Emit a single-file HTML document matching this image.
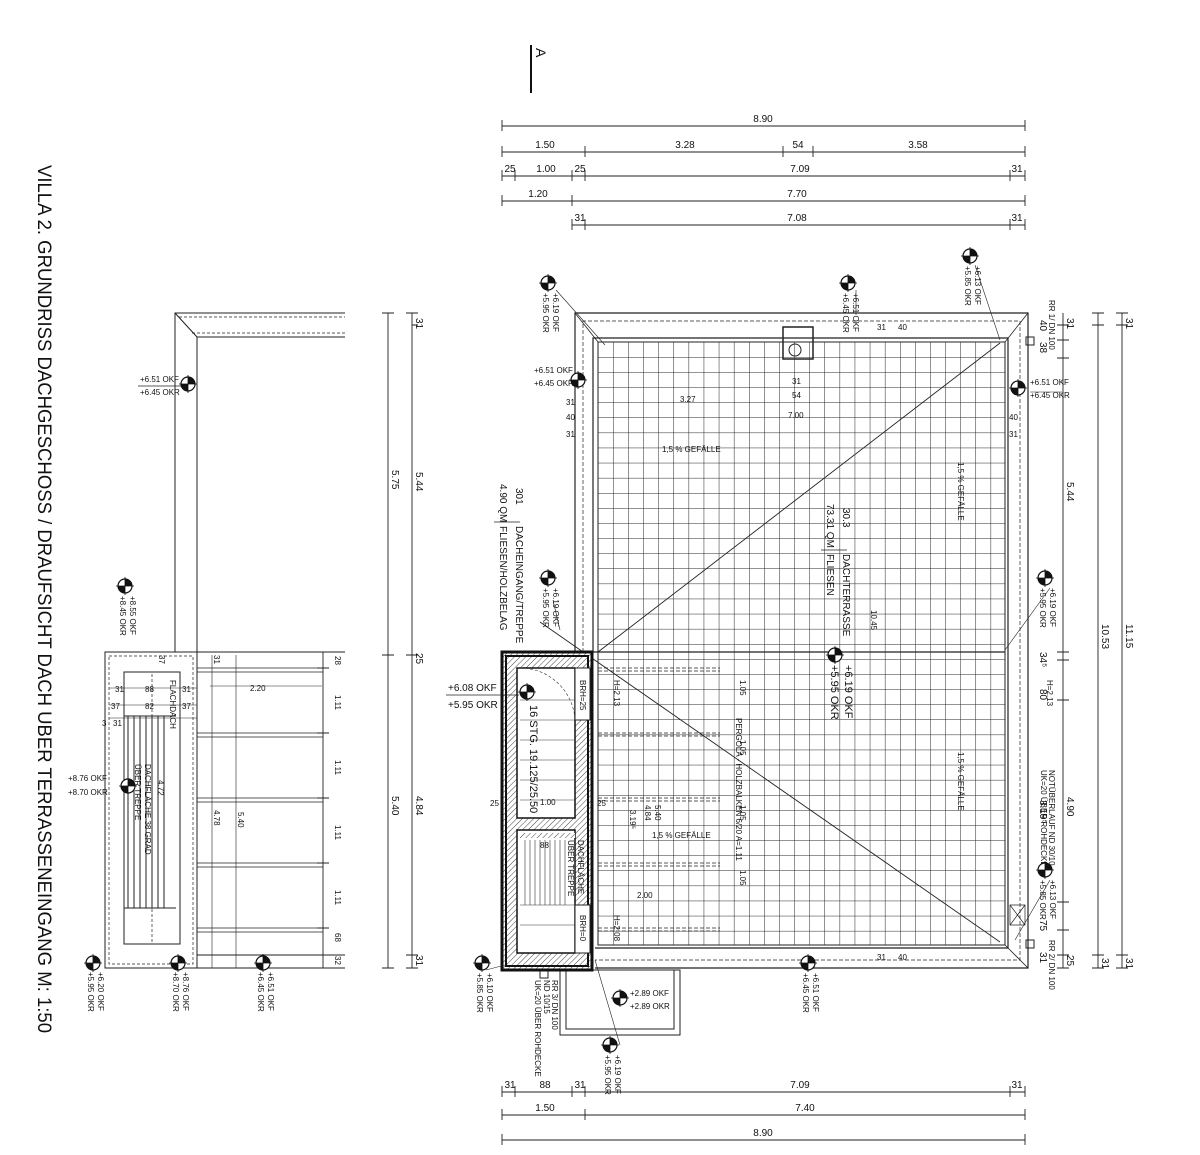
<!DOCTYPE html>
<html><head><meta charset="utf-8"><style>
html,body{margin:0;padding:0;background:#fff}
svg{display:block}
text{font-family:"Liberation Sans",sans-serif;fill:#111}
</style></head><body>
<svg width="1200" height="1155" viewBox="0 0 1200 1155" xmlns="http://www.w3.org/2000/svg">
<defs>
<pattern id="grid" x="598" y="342" width="15.1" height="15.1" patternUnits="userSpaceOnUse">
<path d="M0 0V15.1M0 0H15.1" stroke="#222" stroke-width="1" fill="none"/>
</pattern>
<pattern id="hatch" width="4" height="4" patternUnits="userSpaceOnUse" patternTransform="rotate(45)">
<rect width="4" height="4" fill="#fff"/>
<path d="M0 0V4" stroke="#444" stroke-width="1"/>
</pattern>
<g id="mk"><circle r="7" fill="#fff" stroke="#111" stroke-width="1.2"/><path d="M0 0V-7A7 7 0 0 1 7 0Z M0 0V7A7 7 0 0 1 -7 0Z" fill="#111"/><path d="M-9 0H9M0 -9V9" stroke="#111" stroke-width="0.8"/></g>
</defs>

<!-- Title -->
<text transform="translate(38,165) rotate(90)" font-size="19" textLength="868" lengthAdjust="spacingAndGlyphs">VILLA 2. GRUNDRISS DACHGESCHOSS / DRAUFSICHT DACH UBER TERRASSENEINGANG M:  1:50</text>

<!-- Section marker A -->
<line x1="531" y1="45" x2="531" y2="93" stroke="#111" stroke-width="2"/>
<text transform="translate(536,48) rotate(90)" font-size="14">A</text>

<g stroke="#222" stroke-width="0.9" fill="none">
<path d="M502 126H1025M502 152H1025M502 176H1025M502 201H1025M572 225H1025"/>
<path d="M502 120V131M1025 120V131M502 146V157M585 146V157M783 146V157M813 146V157M1025 146V157M502 170V181M515 170V181M572 170V181M585 170V181M1010 170V181M1025 170V181M502 195V206M572 195V206M1025 195V206M572 219V230M585 219V230M1010 219V230M1025 219V230"/>
<path d="M502 1092H1025M502 1115H1025M502 1140H1025"/>
<path d="M502 1086V1097M515 1086V1097M572 1086V1097M585 1086V1097M1010 1086V1097M1025 1086V1097M502 1109V1120M585 1109V1120M1025 1109V1120M502 1134V1145M1025 1134V1145"/>
<path d="M1063 313V968M1098 313V968M1122 313V968"/>
<path d="M1057 325H1069M1057 340H1069M1057 358H1069M1057 652H1069M1057 660H1069M1057 700H1069M1057 902H1069M1057 930H1069M1057 955H1069M1057 968H1069M1092 313H1104M1092 325H1104M1092 955H1104M1092 968H1104M1116 313H1128M1116 325H1128M1116 955H1128M1116 968H1128"/>
<path d="M388 313V968M412 313V968M412 325H418M382 313H394M406 313H418M382 655H394M406 655H418M382 968H394M406 968H418M406 955H418"/>
<path d="M323 652V968M317 668H329M317 733H329M317 798H329M317 863H329M317 928H329M317 955H329M317 968H329"/>
</g>

<g font-size="10" text-anchor="middle">
<text x="763" y="122">8.90</text>
<text x="545" y="148">1.50</text><text x="685" y="148">3.28</text><text x="798" y="148">54</text><text x="918" y="148">3.58</text>
<text x="510" y="172">25</text><text x="546" y="172">1.00</text><text x="580" y="172">25</text><text x="800" y="172">7.09</text><text x="1017" y="172">31</text>
<text x="538" y="197">1.20</text><text x="797" y="197">7.70</text>
<text x="580" y="221">31</text><text x="797" y="221">7.08</text><text x="1017" y="221">31</text>
<text x="510" y="1088">31</text><text x="545" y="1088">88</text><text x="580" y="1088">31</text><text x="800" y="1088">7.09</text><text x="1017" y="1088">31</text>
<text x="545" y="1111">1.50</text><text x="805" y="1111">7.40</text>
<text x="763" y="1136">8.90</text>
</g>
<g font-size="10">
<text transform="translate(1067,318) rotate(90)">31</text>
<text transform="translate(1040,320) rotate(90)">40</text><text transform="translate(1040,342) rotate(90)">38</text>
<text transform="translate(1067,482) rotate(90)">5.44</text>
<text transform="translate(1040,652) rotate(90)">34⁵</text>
<text transform="translate(1040,689) rotate(90)">80</text>
<text transform="translate(1067,797) rotate(90)">4.90</text>
<text transform="translate(1040,800) rotate(90)">3.19⁵</text>
<text transform="translate(1040,920) rotate(90)">75</text>
<text transform="translate(1040,952) rotate(90)">31</text>
<text transform="translate(1067,955) rotate(90)">25</text>
<text transform="translate(1102,624) rotate(90)">10.53</text>
<text transform="translate(1102,958) rotate(90)">31</text>
<text transform="translate(1126,318) rotate(90)">31</text>
<text transform="translate(1126,624) rotate(90)">11.15</text>
<text transform="translate(1126,958) rotate(90)">31</text>
<text transform="translate(392,470) rotate(90)">5.75</text>
<text transform="translate(416,472) rotate(90)">5.44</text>
<text transform="translate(392,796) rotate(90)">5.40</text>
<text transform="translate(416,796) rotate(90)">4.84</text>
<text transform="translate(416,318) rotate(90)">31</text>
<text transform="translate(416,653) rotate(90)">25</text>
<text transform="translate(416,955) rotate(90)">31</text>
<text transform="translate(335,656) rotate(90)" font-size="8">28</text>
<text transform="translate(335,695) rotate(90)" font-size="8">1.11</text>
<text transform="translate(335,760) rotate(90)" font-size="8">1.11</text>
<text transform="translate(335,825) rotate(90)" font-size="8">1.11</text>
<text transform="translate(335,890) rotate(90)" font-size="8">1.11</text>
<text transform="translate(335,933) rotate(90)" font-size="8">68</text>
<text transform="translate(335,956) rotate(90)" font-size="8">32</text>
</g>

<!-- LEFT PLAN -->
<g stroke="#222" stroke-width="1" fill="none">
<path d="M175 652V313H345M197 652V337H345M175 313L197 337"/>
<path d="M179 317H345M192 333H345" stroke-dasharray="3 2" stroke-width="0.7"/>
<rect x="105" y="652" width="92" height="316"/>
<rect x="109" y="656" width="84" height="308" stroke-dasharray="3 2" stroke-width="0.7"/>
<rect x="152" y="672" width="28" height="272" stroke-dasharray="3 2" stroke-width="0.7"/>
<rect x="124" y="672" width="56" height="272"/>
<path d="M128 716V908M134 716V908M140 716V908M146 716V908M152 716V908M158 716V908M164 716V908M124 716H176M124 908H176"/>
<path d="M197 968H345M197 955H345M197 652H345"/>
<path d="M197 668H323M197 672H323M197 733H323M197 737H323M197 798H323M197 802H323M197 863H323M197 867H323M197 928H323M197 932H323" stroke-width="0.8"/>
<path d="M212 655V968M236 655V968" stroke-width="0.6"/>
<path d="M109 688H197M109 705H197M109 718H197" stroke-width="0.6"/>
<path d="M210 686H322" stroke-width="0.6"/>
</g>
<g font-size="8">
<text x="115" y="692">31</text><text x="145" y="692">88</text><text x="182" y="692">31</text>
<text x="111" y="709">37</text><text x="145" y="709">82</text><text x="182" y="709">37</text>
<text x="102" y="726">3</text><text x="113" y="726">31</text>
<text x="250" y="691">2.20</text>
<text transform="translate(159,655) rotate(90)">37</text>
<text transform="translate(170,680) rotate(90)">FLACHDACH</text>
<text transform="translate(145,764) rotate(90)">DACHFLÄCHE 38 GRAD</text>
<text transform="translate(135,764) rotate(90)">ÜBER TREPPE</text>
<text transform="translate(158,780) rotate(90)">4.72</text>
<text transform="translate(214,810) rotate(90)">4.78</text>
<text transform="translate(238,812) rotate(90)">5.40</text>
<text transform="translate(214,655) rotate(90)">31</text>
</g>
<use href="#mk" x="188" y="384"/>
<g font-size="8"><text x="140" y="382">+6.51 OKF</text><text x="140" y="395">+6.45 OKR</text></g>
<line x1="138" y1="386" x2="181" y2="386" stroke="#222" stroke-width="0.7"/>
<use href="#mk" x="125" y="586"/>
<g font-size="8"><text transform="translate(130,596) rotate(90)">+8.55 OKF</text><text transform="translate(120,596) rotate(90)">+8.45 OKR</text></g>
<use href="#mk" x="128" y="786"/>
<g font-size="8"><text x="68" y="781">+8.76 OKF</text><text x="68" y="795">+8.70 OKR</text></g>
<use href="#mk" x="93" y="963"/>
<g font-size="8"><text transform="translate(98,972) rotate(90)">+6.20 OKF</text><text transform="translate(88,972) rotate(90)">+5.95 OKR</text></g>
<use href="#mk" x="178" y="963"/>
<g font-size="8"><text transform="translate(183,972) rotate(90)">+8.76 OKF</text><text transform="translate(173,972) rotate(90)">+8.70 OKR</text></g>
<use href="#mk" x="263" y="963"/>
<g font-size="8"><text transform="translate(268,972) rotate(90)">+6.51 OKF</text><text transform="translate(258,972) rotate(90)">+6.45 OKR</text></g>

<!-- MAIN PLAN -->
<rect x="598" y="342" width="407" height="603" fill="url(#grid)"/>
<g stroke="#222" fill="none">
<path d="M575 652V313H1028V968H595" stroke-width="1.2"/>
<path d="M583 652V321H1020V960H595" stroke-dasharray="4 2" stroke-width="0.7"/>
<path d="M593 652V338H1008V948H595" stroke-width="1.2"/>
<path d="M598 342H1005V945H598Z" stroke-width="1"/>
<path d="M575 313L598 342M1028 313L1005 342M1028 968L1005 945" stroke-width="0.8"/>
<path d="M598 652L1000 343" stroke-width="0.9"/>
<path d="M540 622L1000 942" stroke-width="0.9"/>
<path d="M583 652H1005" stroke-width="1.2"/>
<path d="M598 668H720M598 671H720M598 733H720M598 736H720M598 798H720M598 801H720M598 863H720M598 866H720M598 928H720M598 931H720" stroke-dasharray="4 2" stroke-width="0.8"/>
<rect x="783" y="327" width="30" height="32" stroke-width="1.5"/>
<circle cx="795" cy="350" r="6"/>
<rect x="560" y="970" width="120" height="65"/>
<rect x="566" y="970" width="108" height="59"/>
<path d="M1010 905L1025 925M1025 905L1010 925M1010 905H1025V925H1010Z" stroke-width="0.7"/>
<rect x="1026" y="337" width="8" height="8"/>
<rect x="1026" y="940" width="8" height="8"/>
<rect x="540" y="970" width="8" height="8"/>
</g>
<!-- stair block -->
<g>
<rect x="502" y="652" width="90" height="318" fill="url(#hatch)" stroke="#111" stroke-width="3"/>
<rect x="506" y="656" width="82" height="310" fill="none" stroke="#111" stroke-width="2"/>
<rect x="517" y="668" width="58" height="150" fill="#fff" stroke="#111" stroke-width="1.5"/>
<rect x="517" y="830" width="58" height="123" fill="#fff" stroke="#111" stroke-width="1.5"/>
<rect x="575" y="668" width="15" height="52" fill="#fff" stroke="#222"/>
<rect x="575" y="905" width="15" height="48" fill="#fff" stroke="#222"/>
<rect x="520" y="833" width="55" height="5" fill="url(#hatch)"/>
<g stroke="#333" stroke-width="0.6" fill="none">
<path d="M520 740H575M520 760H575M520 780H575M520 800H575M520 700H575M520 720H575"/>
<path d="M525 840V905M530 840V905M535 840V905M540 840V905M545 840V905M550 840V905M555 840V905M560 840V905M565 840V905M520 905H575M520 925H575"/>
<path d="M520 668A55 55 0 0 1 575 720" stroke-dasharray="3 2"/>
</g>
</g>
<g font-size="8">
<text transform="translate(1049,300) rotate(90)">RR 1/ DN 100</text>
<text transform="translate(1049,940) rotate(90)">RR 2/ DN 100</text>
<text transform="translate(552,980) rotate(90)">RR 3/ DN 100</text>
<text transform="translate(544,980) rotate(90)">ND 10/15</text>
<text transform="translate(535,980) rotate(90)">UK=20 ÜBER ROHDECKE</text>
<text transform="translate(1049,770) rotate(90)">NOTÜBERLAUF ND 30/10</text>
<text transform="translate(1041,770) rotate(90)">UK=20 ÜBER ROHDECKE</text>
<text x="662" y="452">1,5 % GEFÄLLE</text>
<text x="652" y="838">1,5 % GEFÄLLE</text>
<text transform="translate(958,462) rotate(90)">1,5 % GEFÄLLE</text>
<text transform="translate(958,752) rotate(90)">1,5 % GEFÄLLE</text>
<text transform="translate(736,718) rotate(90)">PERGOLA - HOLZBALKEN 6/20 A=1.11</text>
<text x="680" y="402">3.27</text><text x="788" y="418">7.00</text><text x="792" y="398">54</text><text x="792" y="384">31</text>
<text transform="translate(871,610) rotate(90)">10.45</text>
<text x="566" y="405">31</text><text x="566" y="420">40</text><text x="566" y="437">31</text>
<text x="1009" y="420">40</text><text x="1009" y="437">31</text>
<text x="637" y="898">2.00</text><text x="540" y="805">1.00</text>
<text x="490" y="806">25</text><text x="597" y="806">25</text><text x="540" y="848">88</text>
<text x="877" y="330">31</text><text x="898" y="330">40</text>
<text x="877" y="960">31</text><text x="898" y="960">40</text>
<text transform="translate(740,680) rotate(90)">1.05</text>
<text transform="translate(740,740) rotate(90)">1.05</text>
<text transform="translate(740,805) rotate(90)">1.05</text>
<text transform="translate(740,870) rotate(90)">1.05</text>
<text transform="translate(614,680) rotate(90)">H=2.13</text>
<text transform="translate(1047,680) rotate(90)">H=2.13</text>
<text transform="translate(614,915) rotate(90)">H=2.08</text>
<text transform="translate(580,680) rotate(90)">BRH=25</text>
<text transform="translate(580,915) rotate(90)">BRH=0</text>
<text transform="translate(578,840) rotate(90)">DACHFLÄCHE</text>
<text transform="translate(568,840) rotate(90)">ÜBER TREPPE</text>
<text transform="translate(645,805) rotate(90)">4.84</text>
<text transform="translate(655,805) rotate(90)">5.40</text>
<text transform="translate(630,810) rotate(90)">3.19⁵</text>
</g>
<g font-size="10">
<text transform="translate(516,488) rotate(90)">301</text>
<text transform="translate(500,484) rotate(90)">4.90 QM</text>
<line x1="494" y1="522" x2="520" y2="522" stroke="#222" stroke-width="0.8"/>
<text transform="translate(516,526) rotate(90)">DACHEINGANG/TREPPE</text>
<text transform="translate(500,526) rotate(90)">FLIESEN/HOLZBELAG</text>
<text transform="translate(843,508) rotate(90)">30.3</text>
<text transform="translate(827,504) rotate(90)">73.31 QM</text>
<line x1="821" y1="550" x2="847" y2="550" stroke="#222" stroke-width="0.8"/>
<text transform="translate(843,554) rotate(90)">DACHTERRASSE</text>
<text transform="translate(827,554) rotate(90)">FLIESEN</text>
<text transform="translate(530,705) rotate(90)" font-size="11">16 STG. 19.125/25.50</text>
</g>
<use href="#mk" x="835" y="655"/>
<g font-size="11"><text transform="translate(845,665) rotate(90)">+6.19 OKF</text><text transform="translate(831,665) rotate(90)">+5.95 OKR</text></g>
<use href="#mk" x="527" y="692"/>
<g font-size="10"><text x="448" y="691">+6.08 OKF</text><text x="448" y="708">+5.95 OKR</text></g>
<line x1="446" y1="695" x2="519" y2="695" stroke="#222" stroke-width="0.7"/>
<g font-size="8">
<use href="#mk" x="548" y="283"/><text transform="translate(553,293) rotate(90)">+6.19 OKF</text><text transform="translate(543,293) rotate(90)">+5.95 OKR</text>
<use href="#mk" x="848" y="283"/><text transform="translate(853,293) rotate(90)">+6.51 OKF</text><text transform="translate(843,293) rotate(90)">+6.45 OKR</text>
<use href="#mk" x="970" y="256"/><text transform="translate(975,266) rotate(90)">+6.13 OKF</text><text transform="translate(965,266) rotate(90)">+5.85 OKR</text>
<use href="#mk" x="578" y="380"/><text x="534" y="373">+6.51 OKF</text><text x="534" y="386">+6.45 OKR</text>
<use href="#mk" x="1018" y="388"/><text x="1030" y="385">+6.51 OKF</text><text x="1030" y="398">+6.45 OKR</text>
<use href="#mk" x="1045" y="578"/><text transform="translate(1050,588) rotate(90)">+6.19 OKF</text><text transform="translate(1040,588) rotate(90)">+5.95 OKR</text>
<use href="#mk" x="548" y="578"/><text transform="translate(553,588) rotate(90)">+6.19 OKF</text><text transform="translate(543,588) rotate(90)">+5.95 OKR</text>
<use href="#mk" x="1045" y="870"/><text transform="translate(1050,880) rotate(90)">+6.13 OKF</text><text transform="translate(1040,880) rotate(90)">+5.85 OKR</text>
<use href="#mk" x="808" y="963"/><text transform="translate(813,973) rotate(90)">+6.51 OKF</text><text transform="translate(803,973) rotate(90)">+6.45 OKR</text>
<use href="#mk" x="482" y="963"/><text transform="translate(487,973) rotate(90)">+6.10 OKF</text><text transform="translate(477,973) rotate(90)">+5.85 OKR</text>
<use href="#mk" x="620" y="998"/><text x="630" y="996">+2.89 OKF</text><text x="630" y="1009">+2.89 OKR</text>
<use href="#mk" x="610" y="1045"/><text transform="translate(615,1055) rotate(90)">+6.19 OKF</text><text transform="translate(605,1055) rotate(90)">+5.95 OKR</text>
</g>
<g stroke="#222" stroke-width="0.6" fill="none">
<path d="M556 290L605 345M856 290L856 315M975 265L1000 340M1030 392L1062 392M1050 588L1005 650M553 600L560 630M1050 880L1015 940M486 970L505 965M620 1045L595 960"/>
</g>
</svg>
</body></html>
